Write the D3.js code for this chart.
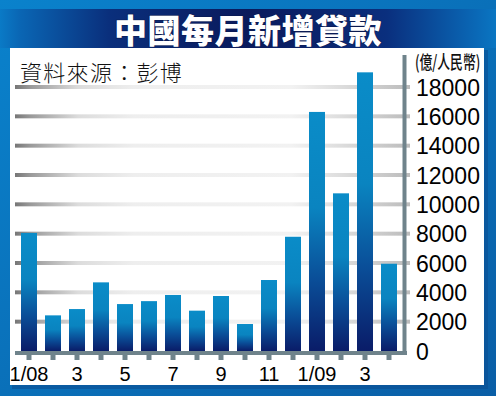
<!DOCTYPE html>
<html lang="zh-Hant">
  <head>
    <meta charset="UTF-8" />
    <title>中國每月新增貸款</title>
    <script src="https://d3js.org/d3.v7.min.js"></script>
    <style>
      body { margin: 0; background: #ffffff; }
      .axis-y text { font-family: 'Liberation Sans', Arial, sans-serif; font-size: 23px; fill: #000; }
      .axis-x text { font-family: 'Liberation Sans Narrow', 'Arial Narrow', 'Liberation Sans', sans-serif; font-size: 20px; fill: #000; }
    </style>
  </head>
  <body>
    <div id="chart"></div>
    <script>
      // monthly new loans, 100 million RMB (Jan 2008 - Apr 2009)
      const months = ['2008-01', '2008-02', '2008-03', '2008-04', '2008-05', '2008-06', '2008-07', '2008-08',
        '2008-09', '2008-10', '2008-11', '2008-12', '2009-01', '2009-02', '2009-03', '2009-04'];
      const loans = [8050, 2430, 2860, 4680, 3200, 3400, 3820, 2750, 3750, 1840, 4840, 7790, 16300, 10750, 19000, 5950];
      const monthLabels = ['1/08', '', '3', '', '5', '', '7', '', '9', '', '11', '', '1/09', '', '3', ''];
      const yTicks = [0, 2000, 4000, 6000, 8000, 10000, 12000, 14000, 16000, 18000];

      const W = 496, H = 396;
      const svg = d3.select('#chart').append('svg').attr('width', W).attr('height', H);
      const defs = svg.append('defs');

      // frame gradient
      const frameGrad = defs.append('linearGradient').attr('id', 'frameGrad')
        .attr('x1', 0).attr('y1', 0).attr('x2', 1).attr('y2', 1);
      frameGrad.append('stop').attr('offset', 0).attr('stop-color', '#0a82cc');
      frameGrad.append('stop').attr('offset', 1).attr('stop-color', '#0a5ea6');

      // title band gradient
      const bandGrad = defs.append('linearGradient').attr('id', 'bandGrad');
      [[0, '#0a7ac6'], [0.04, '#0a66b4'], [0.22, '#0a2f7c'], [0.5, '#0a1a5c'], [0.78, '#0a2f7e'], [0.96, '#0a68b6'], [1, '#0a76c2']]
        .forEach(([o, c]) => bandGrad.append('stop').attr('offset', o).attr('stop-color', c));

      // gridline gradient
      const gridGrad = defs.append('linearGradient').attr('id', 'gridGrad')
        .attr('gradientUnits', 'userSpaceOnUse').attr('x1', 15).attr('x2', 410).attr('y1', 0).attr('y2', 0);
      [[0, '#777777'], [0.04, '#9a9a9a'], [0.16, '#dcdcdc'], [0.3, '#eeeeee'], [0.7, '#f2f2f2'], [0.82, '#dedede'], [0.94, '#c8c8c8'], [1, '#bcbcbc']]
        .forEach(([o, c]) => gridGrad.append('stop').attr('offset', o).attr('stop-color', c));

      // bar gradient
      const barGrad = defs.append('linearGradient').attr('id', 'barGrad')
        .attr('x1', 0).attr('y1', 0).attr('x2', 0).attr('y2', 1);
      [[0, '#0a8cc8'], [0.4, '#0a84c0'], [0.7, '#0a4e98'], [1, '#0a1c68']]
        .forEach(([o, c]) => barGrad.append('stop').attr('offset', o).attr('stop-color', c));

      // frame, title band, panel
      svg.append('rect').attr('width', W).attr('height', H).attr('fill', 'url(#frameGrad)');
      svg.append('rect').attr('x', 0).attr('y', 9).attr('width', W).attr('height', 39).attr('fill', 'url(#bandGrad)');
      svg.append('rect').attr('x', 12).attr('y', 50).attr('width', 476).attr('height', 339).attr('fill', '#0a4e92').attr('opacity', 0.6);
      svg.append('rect').attr('x', 10).attr('y', 48).attr('width', 474).attr('height', 337).attr('fill', '#ffffff');

      svg.append('text')
        .attr('x', 248).attr('y', 29)
        .attr('text-anchor', 'middle').attr('dominant-baseline', 'central')
        .style('font-family', "'Noto Sans CJK TC', 'Noto Sans CJK SC', sans-serif")
        .style('font-weight', 900).style('font-size', '33px').style('letter-spacing', '0.5px')
        .attr('fill', '#ffffff').attr('stroke', '#0a1a50').attr('stroke-width', 1.2)
        .style('paint-order', 'stroke')
        .text('中國每月新增貸款');

      svg.append('text')
        .attr('x', 20).attr('y', 71).attr('dominant-baseline', 'central')
        .style('font-family', "'Noto Sans CJK TC', sans-serif")
        .style('font-weight', 300).style('font-size', '22px').style('letter-spacing', '1.3px')
        .attr('fill', '#111').text('資料來源：彭博');

      // unit label, narrow and tall like the original
      svg.append('text')
        .attr('transform', 'translate(415,61) scale(0.8,1.15)')
        .attr('dominant-baseline', 'central')
        .style('font-family', "'Noto Sans CJK TC', sans-serif")
        .style('font-weight', 500).style('font-size', '16px')
        .attr('fill', '#111').text('(億/人民幣)');

      // scales
      const x = d3.scaleBand().domain(months).range([17, 401]).paddingInner(1 / 3).paddingOuter(1 / 6);
      const y = d3.scaleLinear().domain([0, 18000]).range([351, 87]);

      // gridlines
      svg.append('g').selectAll('rect')
        .data(yTicks.filter(d => d > 0))
        .join('rect')
        .attr('x', 15).attr('width', 395)
        .attr('y', d => y(d) - 2).attr('height', 4)
        .attr('fill', 'url(#gridGrad)');

      // bars
      svg.append('g').selectAll('rect')
        .data(loans)
        .join('rect')
        .attr('x', (d, i) => x(months[i]))
        .attr('width', x.bandwidth())
        .attr('y', d => y(d))
        .attr('height', d => y(0) - y(d))
        .attr('fill', 'url(#barGrad)');

      // axes lines
      svg.append('rect').attr('x', 15).attr('y', 351).attr('width', 392).attr('height', 4).attr('fill', '#6f838b');
      svg.append('rect').attr('x', 402.5).attr('y', 55).attr('width', 4).attr('height', 300).attr('fill', '#6f838b');

      // x axis: ticks as small squares, labels on odd months
      const xAxis = svg.append('g').attr('class', 'axis-x')
        .attr('transform', 'translate(0,355)')
        .call(d3.axisBottom(x).tickSize(5).tickSizeOuter(0).tickPadding(4)
          .tickFormat((d, i) => monthLabels[i]));
      xAxis.select('.domain').remove();
      xAxis.selectAll('.tick line').attr('stroke', '#6f838b').attr('stroke-width', 5);
      xAxis.selectAll('.tick text').attr('y', 19).attr('dy', '0.35em');

      // y axis labels
      const yAxis = svg.append('g').attr('class', 'axis-y')
        .attr('transform', 'translate(406,0)')
        .call(d3.axisRight(y).tickValues(yTicks).tickSize(0).tickPadding(10).tickFormat(d3.format('d')));
      yAxis.select('.domain').remove();
      yAxis.selectAll('.tick text').attr('dy', '0.36em');
    </script>
  </body>
</html>
